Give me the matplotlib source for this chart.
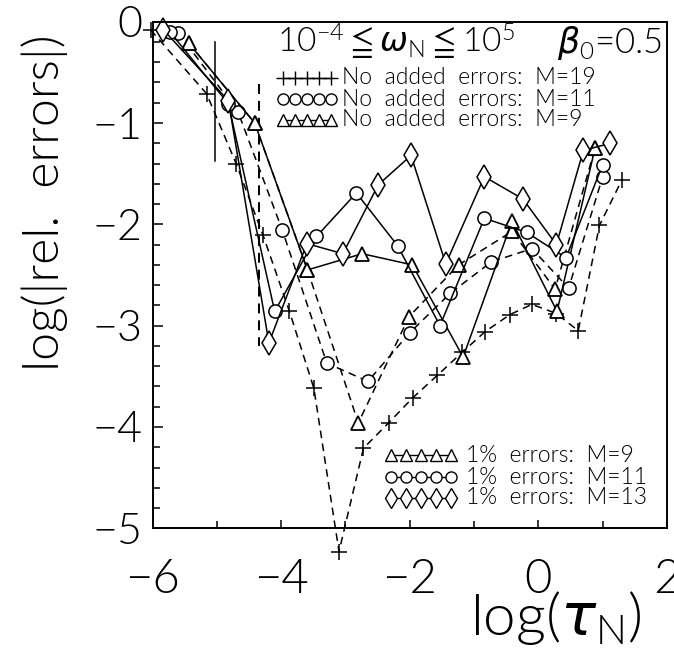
import os
import matplotlib
matplotlib.use("Agg")
import matplotlib.pyplot as plt
import matplotlib.font_manager as fm
from matplotlib.font_manager import FontProperties
from matplotlib.lines import Line2D
import numpy as np

plt.rcParams['font.family'] = ['DejaVu Sans']
plt.rcParams['mathtext.fontset'] = 'dejavusans'

# pick a light sans font file if available
_prefs = ['Lato-Light.ttf', 'Roboto-Light.ttf', 'OpenSans-Light.ttf',
          'NotoSans-Light.ttf', 'DejaVuSans-ExtraLight.ttf']
_files = {os.path.basename(f.fname): f.fname for f in fm.fontManager.ttflist}
LIGHT = None
for p in _prefs:
    if p in _files:
        LIGHT = _files[p]
        break

def fp(size):
    if LIGHT:
        return FontProperties(fname=LIGHT, size=size)
    return FontProperties(family='DejaVu Sans', size=size)

# ---------------- data ----------------
# No added errors, M=19 (plus, dashed)
plus_x = [-6.03, -5.16, -4.70, -4.28, -3.87, -3.49, -3.10, -2.72, -2.33, -1.95,
          -1.57, -1.18, -0.83, -0.44, -0.10, 0.28, 0.62, 0.95, 1.30]
plus_y = [-0.08, -0.71, -1.40, -2.11, -2.86, -3.62, -5.23, -4.21, -3.96, -3.71,
          -3.49, -3.26, -3.06, -2.89, -2.79, -2.88, -3.05, -2.01, -1.56]
# No added errors, M=11 (circles, dashed)
circ0_x = [-5.60, -4.67, -3.98, -3.29, -2.65, -2.00, -1.37, -0.73, -0.10, 0.47, 1.00]
circ0_y = [-0.11, -0.89, -2.06, -3.37, -3.55, -3.07, -2.68, -2.37, -2.24, -2.63, -1.53]
# No added errors, M=9 (triangles, dashed)
tri0_x = [-5.44, -4.41, -3.59, -2.80, -2.01, -1.24, -0.41, 0.26, 0.88]
tri0_y = [-0.21, -1.00, -2.45, -3.96, -2.91, -2.40, -2.07, -2.64, -1.25]
# 1% errors, M=9 (triangles, solid)
tri1_x = [-5.44, -4.41, -3.59, -2.74, -1.96, -1.17, -0.41, 0.29, 0.88]
tri1_y = [-0.21, -1.00, -2.45, -2.29, -2.40, -3.31, -1.97, -2.86, -1.25]
# 1% errors, M=11 (circles, solid)
circ1_x = [-5.73, -4.82, -4.10, -3.45, -2.83, -2.19, -1.53, -0.84, -0.18, 0.43, 1.00]
circ1_y = [-0.10, -0.81, -2.86, -2.12, -1.69, -2.21, -3.00, -1.94, -2.08, -2.33, -1.41]
# 1% errors, M=13 (diamonds, solid)
diam_x = [-5.83, -4.82, -4.19, -3.60, -3.04, -2.49, -1.98, -1.44, -0.84, -0.24, 0.28, 0.70, 1.12]
diam_y = [-0.08, -0.78, -3.17, -2.19, -2.29, -1.61, -1.32, -2.39, -1.53, -1.75, -2.20, -1.27, -1.20]

# vertical marker lines
vsolid_x = [-5.03, -5.03]
vsolid_y = [-0.20, -1.37]
vdash_x = [-4.34, -4.34]
vdash_y = [-0.61, -3.20]

xticks = [-6, -4, -2, 0, 2]
yticks = [0, -1, -2, -3, -4, -5]

# ---------------- figure ----------------
W, H = 674, 649
fig = plt.figure(figsize=(W / 100, H / 100), dpi=100)
ax = fig.add_axes([152.5 / W, 1 - 528.3 / H, (667 - 152.5) / W, (528.3 - 21.7) / H])

def fx(px):
    return px / W

def fy(py):
    return 1 - py / H

lw = 1.1
dash = (0, (5, 3.5))
mk = dict(markerfacecolor='white', markeredgecolor='black', clip_on=False, color='black')

ax.plot(vsolid_x, vsolid_y, color='black', lw=lw)
ax.plot(vdash_x, vdash_y, color='black', lw=lw * 1.3, linestyle=dash)

ax.plot(plus_x, plus_y, linestyle=dash, lw=lw, marker='+', ms=12, mew=1.1, **mk)
ax.plot(circ0_x, circ0_y, linestyle=dash, lw=lw, marker='o', ms=9.5, mew=1.1, **mk)
ax.plot(tri0_x, tri0_y, linestyle=dash, lw=lw, marker='^', ms=9.5, mew=1.3, **mk)
ax.plot(tri1_x, tri1_y, linestyle='-', lw=lw, marker='^', ms=9.5, mew=1.3, **mk)
ax.plot(circ1_x, circ1_y, linestyle='-', lw=lw, marker='o', ms=9.5, mew=1.1, **mk)
ax.plot(diam_x, diam_y, linestyle='-', lw=lw, marker='d', ms=12.5, mew=1.1, **mk)

ax.set_xlim(-6, 2)
ax.set_ylim(-5, 0)
ax.set_xticks(xticks)
ax.set_xticklabels(['\u2212' + str(abs(t)) if t < 0 else str(t) for t in xticks])
ax.set_yticks(yticks)
ax.set_yticklabels(['\u2212' + str(abs(t)) if t < 0 else str(t) for t in yticks])
ax.set_xticks(np.arange(-6, 3, 1), minor=True)
ax.set_yticks(np.arange(-5, 0.01, 0.2), minor=True)
ax.tick_params(axis='both', which='both', direction='in', top=False, right=False, width=1.1)
ax.tick_params(axis='x', which='major', length=6, pad=22)
ax.tick_params(axis='x', which='minor', length=5)
ax.tick_params(axis='y', which='major', length=7, pad=7)
ax.tick_params(axis='y', which='minor', length=5)
for lbl in ax.get_xticklabels():
    lbl.set_fontproperties(fp(34))
for lbl in ax.get_yticklabels():
    lbl.set_fontproperties(fp(31))
for s in ax.spines.values():
    s.set_linewidth(1.4)

fig.text(fx(45), fy(203), 'log(|rel.  errors|)', rotation=90, fontproperties=fp(36),
         ha='center', va='center')
fig.text(fx(556), fy(618), r'log($\tau_\mathregular{N}$)', fontproperties=fp(42),
         ha='center', va='center')

fig.text(fx(277), fy(53),
         r'$\mathregular{10^{-4}\leqq}\omega_\mathregular{N}\mathregular{\leqq10^{5}}$',
         fontproperties=fp(24), va='baseline')
fig.text(fx(662), fy(53), r'$\beta_\mathregular{0}$=0.5', fontproperties=fp(25),
         va='baseline', ha='right')

def legend_row(x0, x1, ycen, marker, ms, label, tx, lwid=1.0):
    xs = np.linspace(fx(x0), fx(x1), 5)
    ys = np.full(5, fy(ycen))
    fig.add_artist(Line2D(xs, ys, transform=fig.transFigure, color='black', lw=lwid,
                          marker=marker, ms=ms, mew=1.0, markerfacecolor='white',
                          markeredgecolor='black'))
    fig.text(fx(tx), fy(ycen), label, fontproperties=fp(16.5), va='center', ha='left')

legend_row(283, 331, 78, '+', 10, 'No  added  errors:  M=19', 342)
legend_row(283, 331, 99, 'o', 8, 'No  added  errors:  M=11', 342)
legend_row(283, 331, 120, '^', 8, 'No  added  errors:  M=9', 342)

legend_row(391, 451, 455, '^', 8, '1%  errors:  M=9', 466)
legend_row(391, 451, 477, 'o', 8, '1%  errors:  M=11', 466)
legend_row(391, 451, 498, 'd', 10, '1%  errors:  M=13', 466)

fig.savefig('out.png', dpi=100)
